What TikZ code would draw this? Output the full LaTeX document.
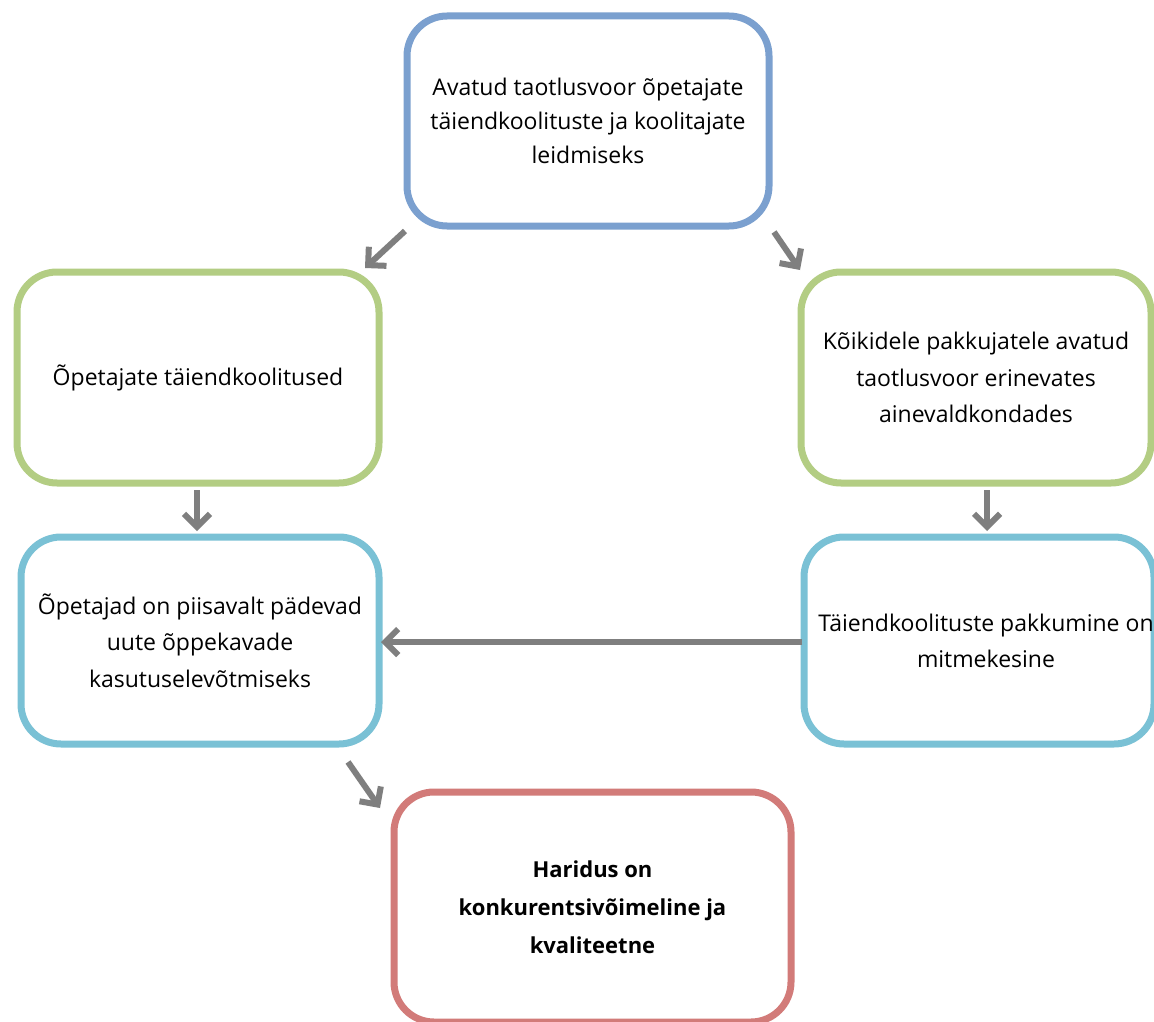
\documentclass[tikz,border=0pt]{standalone}
\usepackage{fontspec}
\setmainfont{Open Sans}
\usetikzlibrary{arrows.meta}
\definecolor{cblue}{HTML}{7BA0CF}
\definecolor{cgreen}{HTML}{B3CD83}
\definecolor{ccyan}{HTML}{7AC1D5}
\definecolor{cred}{HTML}{D27B79}
\definecolor{cgray}{HTML}{7F7F7F}
\begin{document}
\begin{tikzpicture}[x=1pt,y=-1pt,
  box/.style={draw, line width=7pt, rounded corners=40pt, fill=white, align=center,
    inner sep=0pt, font=\fontsize{23}{36.5}\selectfont},
  boldtext/.style={font=\fontsize{22}{38}\selectfont\bfseries},
  arr/.style={draw=cgray, line width=6pt, -{Straight Barb[length=13pt,width=26pt]}}]
\useasboundingbox[fill=white] (0,0) rectangle (1154,1022);
\node[box, draw=cblue, minimum width=362pt, minimum height=210pt,
  font=\fontsize{23}{34}\selectfont] (top) at (588,121)
  {Avatud taotlusvoor õpetajate\\täiendkoolituste ja koolitajate\\leidmiseks};
\node[box, draw=cgreen, minimum width=362pt, minimum height=211pt] (lg) at (198,377.5)
  {Õpetajate täiendkoolitused};
\node[box, draw=cgreen, minimum width=350pt, minimum height=211pt] (rg) at (976,377.5)
  {Kõikidele pakkujatele avatud\\taotlusvoor erinevates\\ainevaldkondades};
\node[box, draw=ccyan, minimum width=358pt, minimum height=207pt] (lc) at (200,640.5)
  {Õpetajad on piisavalt pädevad\\uute õppekavade\\kasutuselevõtmiseks};
\node[box, draw=ccyan, minimum width=350pt, minimum height=207pt] (rc) at (979,640.5)
  {};
\node[font=\fontsize{23}{36.5}\selectfont, align=center] (rct) at (986,641)
  {Täiendkoolituste pakkumine on\\mitmekesine};
\node[box, draw=cred, minimum width=397pt, minimum height=230pt, boldtext] (red) at (592.5,907)
  {Haridus on\\konkurentsivõimeline ja\\kvaliteetne};
\coordinate (a1s) at (405,231);
\coordinate (a1e) at (365,268);
\coordinate (a2s) at (774,232);
\coordinate (a2e) at (800,270);
\coordinate (a3s) at (197,490);
\coordinate (a3e) at (197,531);
\coordinate (a4s) at (987,490);
\coordinate (a4e) at (987,531);
\coordinate (a5s) at (802,642);
\coordinate (a5e) at (381,642);
\coordinate (a6s) at (348,762);
\coordinate (a6e) at (380,808);
\draw[arr] (a1s) -- (a1e);
\draw[arr] (a2s) -- (a2e);
\draw[arr] (a3s) -- (a3e);
\draw[arr] (a4s) -- (a4e);
\draw[arr] (a5s) -- (a5e);
\draw[arr] (a6s) -- (a6e);
\end{tikzpicture}
\end{document}
